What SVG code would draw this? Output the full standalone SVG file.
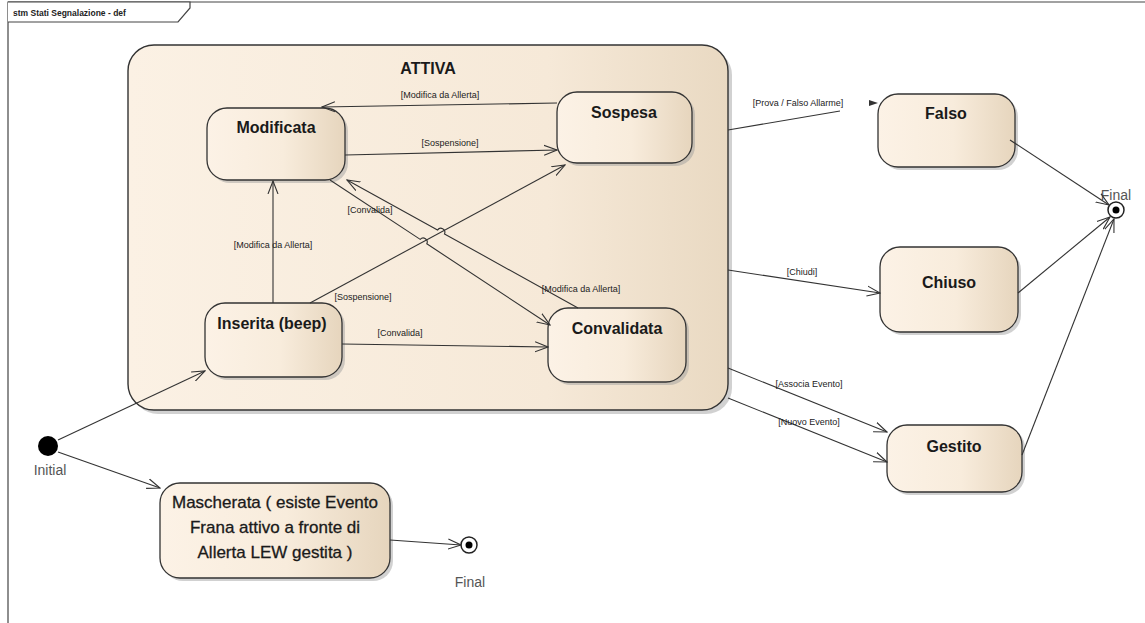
<svg xmlns="http://www.w3.org/2000/svg" width="1145" height="623" viewBox="0 0 1145 623">
<defs>
<linearGradient id="g" x1="0" y1="0" x2="1" y2="0">
<stop offset="0" stop-color="#fcf2e6"/>
<stop offset="0.55" stop-color="#f8ecdc"/>
<stop offset="1" stop-color="#e6d5bd"/>
</linearGradient>
<linearGradient id="gc" x1="0" y1="0" x2="1" y2="0">
<stop offset="0" stop-color="#fbf1e4"/>
<stop offset="0.7" stop-color="#f6e9d8"/>
<stop offset="1" stop-color="#e9d9c2"/>
</linearGradient>
<marker id="a" markerWidth="14" markerHeight="12" refX="13" refY="6" orient="auto" markerUnits="userSpaceOnUse">
<path d="M0,1 L13,6 L0,11" fill="none" stroke="#333" stroke-width="1.1"/>
</marker>
</defs>
<style>
.st{fill:url(#g);stroke:#333;stroke-width:1.3}
.sh{fill:#9a9a9a;opacity:0.45}
.t{font-family:"Liberation Sans Narrow","Liberation Sans",sans-serif;font-weight:bold;font-size:16px;fill:#1a1a1a;text-anchor:middle}
.l{font-family:"Liberation Sans Narrow","Liberation Sans",sans-serif;font-size:9px;fill:#222;text-anchor:middle}
.c{fill:none;stroke:#333;stroke-width:1.1}
.n{font-family:"Liberation Sans Narrow","Liberation Sans",sans-serif;font-size:14px;fill:#555;text-anchor:middle}
.m{font-family:"Liberation Sans",sans-serif;font-size:17px;fill:#1a1a1a;stroke:#1a1a1a;stroke-width:0.3;text-anchor:middle}
</style>
<rect width="1145" height="623" fill="#fff"/>
<g id="frame">
<path d="M8,623 V2 H1145" fill="none" stroke="#444" stroke-width="1.2"/>
<path d="M8,2 H190 V8 L178,22 H8" fill="#fff" stroke="#444" stroke-width="1.2"/>
<text x="13" y="16" style="font-family:'Liberation Sans',sans-serif;font-weight:bold;font-size:8.5px;fill:#222">stm Stati Segnalazione - def</text>
</g>
<g id="ATTIVA">
<rect x="132" y="49" width="600" height="365" rx="26" class="sh"/>
<rect x="128" y="45" width="600" height="365" rx="26" fill="url(#gc)" stroke="#333" stroke-width="1.4"/>
<text x="428" y="74" class="t">ATTIVA</text>
</g>
<g id="Modificata">
<rect x="210" y="111" width="138" height="72" rx="20" class="sh"/>
<rect x="207" y="108" width="138" height="72" rx="20" class="st"/>
<text x="276" y="133" class="t">Modificata</text>
</g>
<g id="Sospesa">
<rect x="560" y="95" width="135" height="71" rx="20" class="sh"/>
<rect x="557" y="92" width="135" height="71" rx="20" class="st"/>
<text x="624" y="118" class="t">Sospesa</text>
</g>
<g id="Inserita">
<rect x="208" y="306" width="137" height="74" rx="20" class="sh"/>
<rect x="205" y="303" width="137" height="74" rx="20" class="st"/>
<text x="272" y="329" class="t">Inserita (beep)</text>
</g>
<g id="Convalidata">
<rect x="551" y="311" width="138" height="74" rx="20" class="sh"/>
<rect x="548" y="308" width="138" height="74" rx="20" class="st"/>
<text x="617" y="334" class="t">Convalidata</text>
</g>
<g id="Falso">
<rect x="881" y="97" width="137" height="73" rx="20" class="sh"/>
<rect x="878" y="94" width="137" height="73" rx="20" class="st"/>
<text x="946" y="119" class="t">Falso</text>
</g>
<g id="Chiuso">
<rect x="883" y="250" width="138" height="85" rx="20" class="sh"/>
<rect x="880" y="247" width="138" height="85" rx="20" class="st"/>
<text x="949" y="288" class="t">Chiuso</text>
</g>
<g id="Gestito">
<rect x="890" y="428" width="135" height="67" rx="20" class="sh"/>
<rect x="887" y="425" width="135" height="67" rx="20" class="st"/>
<text x="954" y="452" class="t">Gestito</text>
</g>
<g id="Mascherata">
<rect x="163" y="486" width="230" height="95" rx="20" class="sh"/>
<rect x="160" y="483" width="230" height="95" rx="20" class="st"/>
<text x="275" y="508" class="m">Mascherata ( esiste Evento</text>
<text x="275" y="533" class="m">Frana attivo a fronte di</text>
<text x="275" y="558" class="m">Allerta LEW gestita )</text>
</g>
<g id="Initial">
<circle cx="48" cy="446" r="10" fill="#000"/>
<text x="50" y="475" class="n">Initial</text>
</g>
<g id="Final1">
<circle cx="469" cy="545" r="8" fill="#fff" stroke="#222" stroke-width="1.5"/>
<circle cx="469" cy="545" r="3.5" fill="#000"/>
<text x="470" y="587" class="n">Final</text>
</g>
<g id="Final2">
<circle cx="1116" cy="210" r="8" fill="#fff" stroke="#222" stroke-width="1.5"/>
<circle cx="1116" cy="210" r="3.5" fill="#000"/>
<text x="1116" y="200" class="n">Final</text>
</g>
<g id="connectors">
<path class="c" d="M557,103 L322,107" marker-end="url(#a)"/>
<text x="440" y="98" class="l">[Modifica da Allerta]</text>
<path class="c" d="M345,155 L557,150" marker-end="url(#a)"/>
<text x="450" y="146" class="l">[Sospensione]</text>
<path class="c" d="M330,180 L420.2,239.4 A4,4 0 0 1 426.8,243.8 L550,325" marker-end="url(#a)"/>
<text x="370" y="213" class="l">[Convalida]</text>
<path class="c" d="M578,308 L444.5,233.9 A4,4 0 0 0 437.5,230.1 L347,180" marker-end="url(#a)"/>
<text x="581" y="292" class="l">[Modifica da Allerta]</text>
<path class="c" d="M273,303 L273,181" marker-end="url(#a)"/>
<text x="273" y="248" class="l">[Modifica da Allerta]</text>
<path class="c" d="M310,303 L565,165" marker-end="url(#a)"/>
<text x="363" y="300" class="l">[Sospensione]</text>
<path class="c" d="M342,344 L548,347" marker-end="url(#a)"/>
<text x="400" y="336" class="l">[Convalida]</text>
<path class="c" d="M58,440 L205,371" marker-end="url(#a)"/>
<path class="c" d="M58,452 L160,488" marker-end="url(#a)"/>
<path class="c" d="M390,540 L461,545" marker-end="url(#a)"/>
<path class="c" d="M728,130 L840,111"/>
<path d="M869,100 L878,103 L869,106 Z" fill="#333"/>
<text x="798" y="106" class="l">[Prova / Falso Allarme]</text>
<path class="c" d="M728,270 L880,293" marker-end="url(#a)"/>
<text x="802" y="275" class="l">[Chiudi]</text>
<path class="c" d="M728,368 L887,432" marker-end="url(#a)"/>
<text x="809" y="387" class="l">[Associa Evento]</text>
<path class="c" d="M728,398 L887,462" marker-end="url(#a)"/>
<text x="809" y="425" class="l">[Nuovo Evento]</text>
<path class="c" d="M1010,140 L1109,205" marker-end="url(#a)"/>
<path class="c" d="M1018,293 L1110,217" marker-end="url(#a)"/>
<path class="c" d="M1022,455 L1114,219" marker-end="url(#a)"/>
</g>
</svg>
